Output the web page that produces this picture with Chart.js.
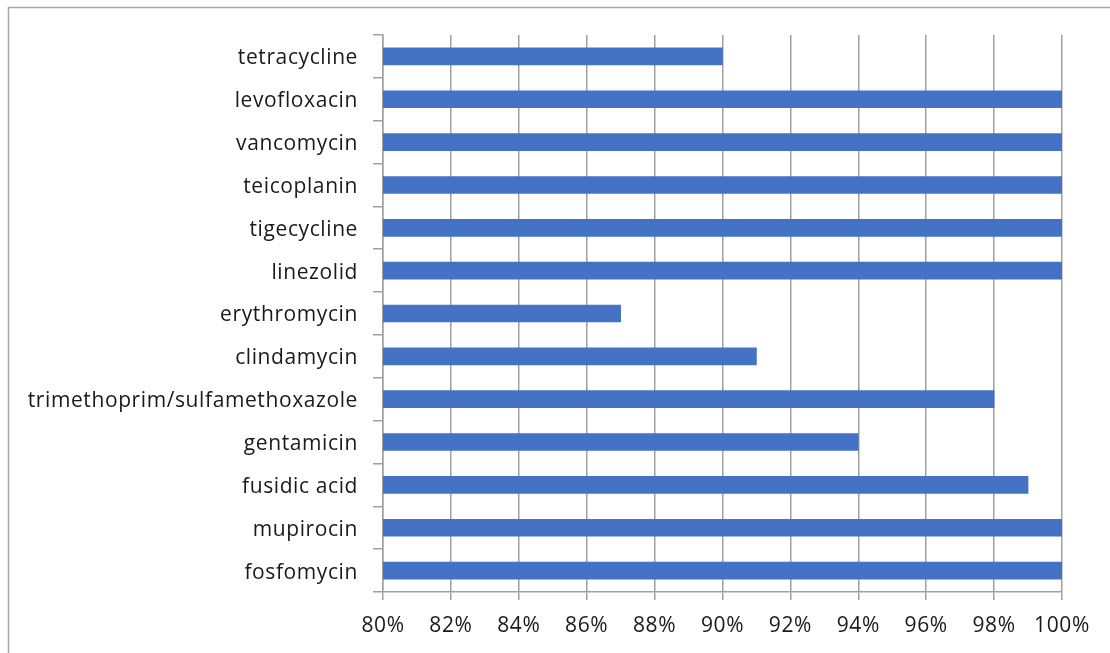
<!DOCTYPE html>
<html><head><meta charset="utf-8">
<script src="https://cdn.jsdelivr.net/npm/chart.js@4.4.0/dist/chart.umd.min.js"></script>
<style>html,body{margin:0;padding:0;background:#fff}#wrap{width:1110px;height:653px;position:relative}</style>
</head><body><div id="wrap"><canvas id="c" width="1110" height="653"></canvas></div>
<script>
const categories = ["tetracycline","levofloxacin","vancomycin","teicoplanin","tigecycline","linezolid","erythromycin","clindamycin","trimethoprim/sulfamethoxazole","gentamicin","fusidic acid","mupirocin","fosfomycin"];
const susceptibility = [90,100,100,100,100,100,87,91,98,94,99,100,100];
const axisMin = 80, axisMax = 100, axisStep = 2;

const frame = {id:'frame', afterDraw(ch){const c=ch.ctx;c.save();c.strokeStyle='#a6a6a6';c.lineWidth=1.5;c.beginPath();c.moveTo(8.5,660);c.lineTo(8.5,7.5);c.lineTo(1120,7.5);c.stroke();c.restore();}};
const FONT = {family:'"Open Sans", sans-serif', size:21};
new Chart(document.getElementById('c'),{
  type:'bar',
  data:{labels:categories,datasets:[{data:susceptibility,backgroundColor:'#4472C4',barThickness:17}]},
  options:{
    indexAxis:'y', responsive:false, animation:false,
    layout:{padding:{left:9,top:35,right:48,bottom:0}},
    plugins:{legend:{display:false},tooltip:{enabled:false}},
    scales:{
      x:{min:axisMin,max:axisMax,ticks:{stepSize:axisStep,callback:v=>v+'%',color:'#1a1a1a',font:FONT,padding:13,maxRotation:0},
         grid:{color:'#a0a0a0',lineWidth:1.5,tickLength:8},border:{color:'#a0a0a0',width:1.5},
         afterFit(s){s.height=61;}},
      y:{ticks:{color:'#1a1a1a',font:FONT,padding:15,labelOffset:2},
         grid:{offset:true,drawOnChartArea:false,color:'#a0a0a0',lineWidth:1.5,tickLength:10},border:{color:'#a0a0a0',width:1.5},
         afterFit(s){s.width=374;}}
    }
  },
  plugins:[frame, {id:'ls', beforeDraw(ch){ch.ctx.letterSpacing='0.6px';}}]
});
</script></body></html>
